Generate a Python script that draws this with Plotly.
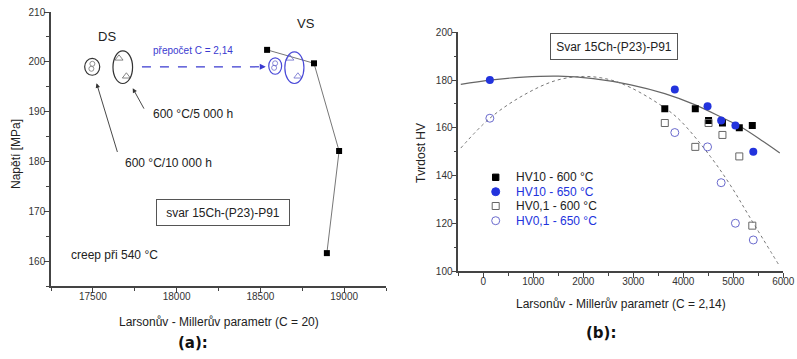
import plotly.graph_objects as go

FONT = "Liberation Sans, Arial, sans-serif"
BLUE = "#2233dd"
LBLUE = "#6a6acd"
W, H = 797, 359

# ---------------- (a) data ----------------
vs_lm = [18540, 18820, 18970, 18897]
vs_stress = [202.4, 199.7, 182.1, 161.6]
ds_circ_lm = [17497, 17491]
ds_circ_stress = [199.6, 198.6]
ds_tri_lm = [17656, 17700]
ds_tri_stress = [200.7, 197.1]
vs_circ_lm = [18588, 18582]
vs_circ_stress = [199.7, 198.8]
vs_tri_lm = [18676, 18724]
vs_tri_stress = [200.7, 197.1]

# ---------------- (b) data ----------------
hv10_600_x = [3630, 4240, 4505, 4783, 5120, 5380]
hv10_600_y = [168, 168, 163, 162, 160, 161]
hv10_650_x = [131, 3830, 4485, 4757, 5042, 5400]
hv10_650_y = [180, 176, 169, 163, 161, 150]
hv01_600_x = [3630, 4240, 4505, 4783, 5120, 5380]
hv01_600_y = [162, 152, 162, 157, 148, 119]
hv01_650_x = [131, 3830, 4485, 4757, 5042, 5400]
hv01_650_y = [164, 158, 152, 137, 120, 113]
fit_solid_x = [-450, 131, 800, 1500, 2200, 2950, 3630, 4240, 4800, 5130, 5600, 5930]
fit_solid_y = [178.2, 180.0, 181.2, 181.6, 180.6, 178.0, 174.3, 169.6, 164.0, 160.6, 154.2, 149.4]
fit_dot_x = [-450, 131, 800, 1450, 2000, 2500, 2950, 3610, 3940, 4540, 4940, 5330, 5930]
fit_dot_y = [151.5, 164.0, 173.6, 179.8, 181.5, 180.3, 176.8, 168.6, 163.0, 148.0, 136.0, 122.5, 101.9]
legend_labels = ["HV10 - 600 °C", "HV10 - 650 °C", "HV0,1 - 600 °C", "HV0,1 - 650 °C"]
legend_colors = ["#222", BLUE, "#222", BLUE]

fig = go.Figure()

# (a) traces
fig.add_trace(go.Scatter(x=vs_lm, y=vs_stress, mode="lines+markers", xaxis="x", yaxis="y",
                         line=dict(color="#777", width=1),
                         marker=dict(symbol="square", size=6, color="black"), showlegend=False))
fig.add_trace(go.Scatter(x=ds_circ_lm, y=ds_circ_stress, mode="markers", xaxis="x", yaxis="y",
                         marker=dict(symbol="circle-open", size=5, color="#777", line=dict(width=0.8)),
                         showlegend=False))
fig.add_trace(go.Scatter(x=ds_tri_lm, y=ds_tri_stress, mode="markers", xaxis="x", yaxis="y",
                         marker=dict(symbol="triangle-up-open", size=7, color="#666", line=dict(width=0.8)),
                         showlegend=False))
fig.add_trace(go.Scatter(x=vs_circ_lm, y=vs_circ_stress, mode="markers", xaxis="x", yaxis="y",
                         marker=dict(symbol="circle-open", size=5, color=LBLUE, line=dict(width=0.8)),
                         showlegend=False))
fig.add_trace(go.Scatter(x=vs_tri_lm, y=vs_tri_stress, mode="markers", xaxis="x", yaxis="y",
                         marker=dict(symbol="triangle-up-open", size=7, color=LBLUE, line=dict(width=0.8)),
                         showlegend=False))

# (b) traces
fig.add_trace(go.Scatter(x=fit_solid_x, y=fit_solid_y, mode="lines", xaxis="x2", yaxis="y2",
                         line=dict(color="#666", width=1.2, shape="spline"), showlegend=False,
                         hoverinfo="skip"))
fig.add_trace(go.Scatter(x=fit_dot_x, y=fit_dot_y, mode="lines", xaxis="x2", yaxis="y2",
                         line=dict(color="#777", width=1, dash="dot", shape="spline"), showlegend=False,
                         hoverinfo="skip"))
fig.add_trace(go.Scatter(x=hv10_600_x, y=hv10_600_y, mode="markers", xaxis="x2", yaxis="y2",
                         name=legend_labels[0], showlegend=False,
                         marker=dict(symbol="square", size=7, color="black")))
fig.add_trace(go.Scatter(x=hv10_650_x, y=hv10_650_y, mode="markers", xaxis="x2", yaxis="y2",
                         name=legend_labels[1], showlegend=False,
                         marker=dict(symbol="circle", size=8, color=BLUE)))
fig.add_trace(go.Scatter(x=hv01_600_x, y=hv01_600_y, mode="markers", xaxis="x2", yaxis="y2",
                         name=legend_labels[2], showlegend=False,
                         marker=dict(symbol="square-open", size=7, color="#666", line=dict(width=1))))
fig.add_trace(go.Scatter(x=hv01_650_x, y=hv01_650_y, mode="markers", xaxis="x2", yaxis="y2",
                         name=legend_labels[3], showlegend=False,
                         marker=dict(symbol="circle-open", size=8, color=LBLUE, line=dict(width=1))))

axis_common = dict(showline=True, linecolor="#444", linewidth=1.5, ticks="outside", ticklen=5,
                   tickwidth=1, tickcolor="#444", showgrid=False, zeroline=False, automargin=False,
                   tickfont=dict(family=FONT, size=10, color="#333"))

fig.update_layout(
    width=W, height=H, margin=dict(l=0, r=0, t=0, b=0),
    paper_bgcolor="white", plot_bgcolor="white", showlegend=False,
    font=dict(family=FONT, size=12, color="#222"),
    xaxis=dict(domain=[51 / W, 386 / W], range=[17250, 19250], tick0=17500, dtick=500,
               tickformat="d", ticklabelstandoff=-5,
               minor=dict(ticks="outside", ticklen=3, dtick=250, tick0=17250, tickcolor="#444"),
               anchor="y", **axis_common),
    yaxis=dict(domain=[1 - 286 / H, 1 - 12 / H], range=[155, 210], tick0=160, dtick=10,
               ticklabelstandoff=-3,
               minor=dict(ticks="outside", ticklen=3, dtick=5, tick0=155, tickcolor="#444"),
               anchor="x", **axis_common),
    xaxis2=dict(domain=[458.3 / W, 783.3 / W], range=[-500, 6000], tick0=0, dtick=1000,
                tickformat="d", ticklabelstandoff=-5,
                minor=dict(ticks="outside", ticklen=3, dtick=500, tick0=-500, tickcolor="#444"),
                anchor="y2", **axis_common),
    yaxis2=dict(domain=[1 - 271 / H, 1 - 32.3 / H], range=[100, 200], tick0=100, dtick=20,
                ticklabelstandoff=-3,
                minor=dict(ticks="outside", ticklen=3, dtick=10, tick0=100, tickcolor="#444"),
                anchor="x2", **axis_common),
)

# ellipses in (a)
ell = [
    (17451, 17541, 197.3, 200.7, "#333"),
    (17620, 17737, 195.65, 202.2, "#333"),
    (18550, 18627, 197.5, 200.8, "#4a4ad8"),
    (18646, 18760, 195.65, 202.0, "#4a4ad8"),
]
for x0, x1, y0, y1, c in ell:
    fig.add_shape(type="circle", xref="x", yref="y", x0=x0, x1=x1, y0=y0, y1=y1,
                  line=dict(color=c, width=1.2))

# dashed blue arrow
fig.add_shape(type="line", xref="x", yref="y", x0=17793, x1=18515, y0=199.0, y1=199.0,
              line=dict(color="#3a3ad0", width=1.2, dash="dash"))
fig.add_annotation(x=18532, y=199.0, ax=18500, ay=199.0, xref="x", yref="y", axref="x", ayref="y",
                   text="", showarrow=True, arrowhead=2, arrowsize=1, arrowwidth=1.2,
                   arrowcolor="#3a3ad0")

# black arrows
for hx, hy, tx, ty in [(17738, 194.7, 17810, 190.3), (17522, 195.7, 17649, 181.6)]:
    fig.add_annotation(x=hx, y=hy, ax=tx, ay=ty, xref="x", yref="y", axref="x", ayref="y",
                       text="", showarrow=True, arrowhead=2, arrowsize=1, arrowwidth=0.9,
                       arrowcolor="#333")


def txt(x, y, s, size=12, color="#222", ref=("x", "y"), xanchor="center", **kw):
    fig.add_annotation(x=x, y=y, xref=ref[0], yref=ref[1], text=s, showarrow=False,
                       xanchor=xanchor, yanchor="middle",
                       font=dict(family=kw.pop("family", FONT), size=size, color=color), **kw)


P = ("paper", "paper")
txt(17583, 205.0, "DS", 13)
txt(18770, 207.6, "VS", 13)
txt(18099, 202.2, "přepočet C = 2,14", 10, "#3a3ad0")
txt(18099, 189.5, "600 °C/5 000 h", 12)
txt(17949, 179.6, "600 °C/10 000 h", 12)
txt(17631, 161.3, "creep při 540 °C", 12)
txt(18279, 169.8, "svar 15Ch-(P23)-P91", 12, bordercolor="#555", borderwidth=1, borderpad=5,
    width=122, height=15)

# (b) boxed title
txt(614 / W, 1 - 46.5 / H, "Svar 15Ch-(P23)-P91", 12, ref=P,
    bordercolor="#555", borderwidth=1, borderpad=5, width=116, height=15)

# (b) legend (symbols + labels)
leg_x = 495.7
leg_rows = [177.3, 191.7, 206.0, 220.7]
leg_sym = [("rect", 3.2, "black", "black"), ("circle", 4, BLUE, BLUE),
           ("rect", 3.5, "rgba(0,0,0,0)", "#666"), ("circle", 4, "rgba(0,0,0,0)", LBLUE)]
for (kind, r, fill, lc), yc, lab, col in zip(leg_sym, leg_rows, legend_labels, legend_colors):
    fig.add_shape(type=kind, xref="paper", yref="paper",
                  x0=(leg_x - r) / W, x1=(leg_x + r) / W, y0=1 - (yc + r) / H, y1=1 - (yc - r) / H,
                  fillcolor=fill, line=dict(color=lc, width=1))
    txt(514.3 / W, 1 - yc / H, lab, 12, col, ref=P, xanchor="left")

# axis titles
txt(16 / W, 1 - 154 / H, "Napětí [MPa]", 12, ref=P, textangle=-90)
txt(421 / W, 1 - 153 / H, "Tvrdost HV", 12, ref=P, textangle=-90)
txt(219 / W, 1 - 321.7 / H, "Larsonův - Millerův parametr (C = 20)", 12, ref=P)
txt(620.5 / W, 1 - 304 / H, "Larsonův - Millerův parametr (C = 2,14)", 12, ref=P)
txt(193 / W, 1 - 342.7 / H, "<b>(a):</b>", 15, "#111", ref=P, family="DejaVu Sans")
txt(601 / W, 1 - 333.3 / H, "<b>(b):</b>", 15, "#111", ref=P, family="DejaVu Sans")

fig.write_html("out.html", config={"displayModeBar": False},
               post_script="document.body.style.margin='0';document.body.style.overflow='hidden';")
